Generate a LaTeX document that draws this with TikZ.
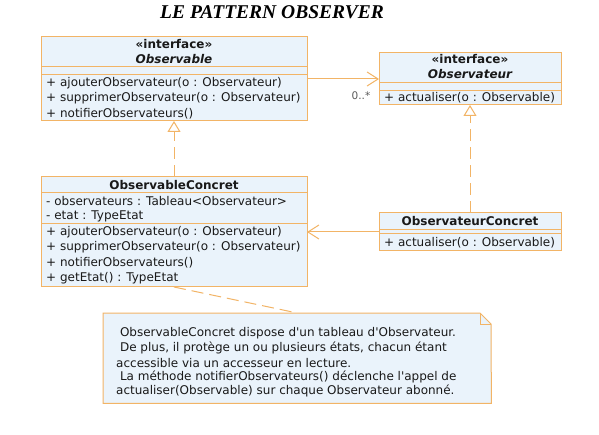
\documentclass[tikz,border=0pt]{standalone}
\usepackage{fontspec}
\setmainfont{DejaVu Sans}[Ligatures=TeXOff]
\newfontfamily\titlefont{Liberation Serif}
\usetikzlibrary{arrows.meta}
\definecolor{umlborder}{RGB}{242,180,102}
\definecolor{umlfill}{RGB}{234,243,251}
\definecolor{umltext}{RGB}{25,25,25}
\definecolor{labgray}{RGB}{90,90,90}
\begin{document}
\begin{tikzpicture}[x=1pt,y=-1pt,
  umlbox/.style={draw=umlborder, fill=umlfill, line width=1pt, anchor=north west, inner sep=0pt, outer sep=0pt},
  txt/.style={anchor=west, inner sep=0pt, font=\fontsize{12}{14}\selectfont, text=umltext},
  ctxt/.style={inner sep=0pt, font=\fontsize{12}{14}\selectfont\bfseries, text=umltext},
  sepline/.style={draw=umlborder, line width=1pt},
  link/.style={draw=umlborder, line width=1pt},
  dashlink/.style={draw=umlborder, line width=1pt, dash pattern=on 12pt off 6pt},
  assoc/.style={link, -{Straight Barb[length=11pt,width=14pt]}},
  realize/.style={dashlink, -{Triangle[open,length=11pt,width=13pt,fill=white]}},
  notetxt/.style={anchor=west, inner sep=0pt, font=\fontsize{12}{14}\selectfont, text=umltext}]
\useasboundingbox[fill=white] (0,0) rectangle (599,435);

% title
\node[inner sep=0pt, font=\titlefont\fontsize{19.5}{22}\selectfont\bfseries\itshape] (title) at (272,12) {LE PATTERN OBSERVER};

% Observable
\node[umlbox, minimum width=266pt, minimum height=84pt] (obs) at (41,37) {};
\draw[sepline] (41,67) -- (307,67);
\draw[sepline] (41,75) -- (307,75);
\node[ctxt] (obsst) at (174,44) {«interface»};
\node[ctxt, font=\fontsize{12}{14}\selectfont\bfseries\itshape] (obsname) at (174,59) {Observable};
\node[txt] (obsm1) at (46,83) {+ ajouterObservateur(o : Observateur)};
\node[txt] (obsm2) at (46,98) {+ supprimerObservateur(o : Observateur)};
\node[txt] (obsm3) at (46,114) {+ notifierObservateurs()};

% Observateur
\node[umlbox, minimum width=182pt, minimum height=52pt] (obsv) at (379,53) {};
\draw[sepline] (379,83) -- (561,83);
\draw[sepline] (379,91) -- (561,91);
\node[ctxt] (obsvst) at (470,59) {«interface»};
\node[ctxt, font=\fontsize{12}{14}\selectfont\bfseries\itshape] (obsvname) at (470,74) {Observateur};
\node[txt] (obsvm1) at (384,98) {+ actualiser(o : Observable)};

% ObservableConcret
\node[umlbox, minimum width=266pt, minimum height=110pt] (oconc) at (41,177) {};
\draw[sepline] (41,193) -- (307,193);
\draw[sepline] (41,224) -- (307,224);
\node[ctxt] (oconcname) at (174,185) {ObservableConcret};
\node[txt] (oconca1) at (46,201) {- observateurs : Tableau<Observateur>};
\node[txt] (oconca2) at (46,216) {- etat : TypeEtat};
\node[txt] (oconcm1) at (46,232) {+ ajouterObservateur(o : Observateur)};
\node[txt] (oconcm2) at (46,247) {+ supprimerObservateur(o : Observateur)};
\node[txt] (oconcm3) at (46,263) {+ notifierObservateurs()};
\node[txt] (oconcm4) at (46,278) {+ getEtat() : TypeEtat};

% ObservateurConcret
\node[umlbox, minimum width=182pt, minimum height=38pt] (vconc) at (379,213) {};
\draw[sepline] (379,230) -- (561,230);
\draw[sepline] (379,234) -- (561,234);
\node[ctxt] (vconcname) at (470,221) {ObservateurConcret};
\node[txt] (vconcm1) at (384,243) {+ actualiser(o : Observable)};

% note
\node[inner sep=0pt, minimum width=388pt, minimum height=90pt, anchor=north west] (note) at (103,313) {};
\draw[draw=umlborder, fill=umlfill, line width=1pt] (note.north west) -- (480,313) -- (491,324) -- (note.south east) -- (note.south west) -- cycle;
\draw[draw=umlborder, line width=1pt] (480,313) -- (480,324) -- (491,324);
\node[notetxt] (n1) at (116,333) {\ ObservableConcret dispose d'un tableau d'Observateur.};
\node[notetxt] (n2) at (116,348) {\ De plus, il protège un ou plusieurs états, chacun étant};
\node[notetxt] (n3) at (116,363) {accessible via un accesseur en lecture.};
\node[notetxt] (n4) at (116,377) {\ La méthode notifierObservateurs() déclenche l'appel de};
\node[notetxt] (n5) at (116,391) {actualiser(Observable) sur chaque Observateur abonné.};

% connectors
\draw[assoc] (obs.east) -- (obsv.west) node[pos=0.75, below=12pt, inner sep=0pt, font=\fontsize{10.5}{12}\selectfont, text=labgray] (mult) {0..*};
\draw[assoc] (vconc.west) -- (oconc.east);
\draw[realize] (oconc.north) -- (obs.south);
\draw[realize] (vconc.north) -- (obsv.south);
\draw[dashlink] (oconc.south) -- (note.north);
\end{tikzpicture}
\end{document}
